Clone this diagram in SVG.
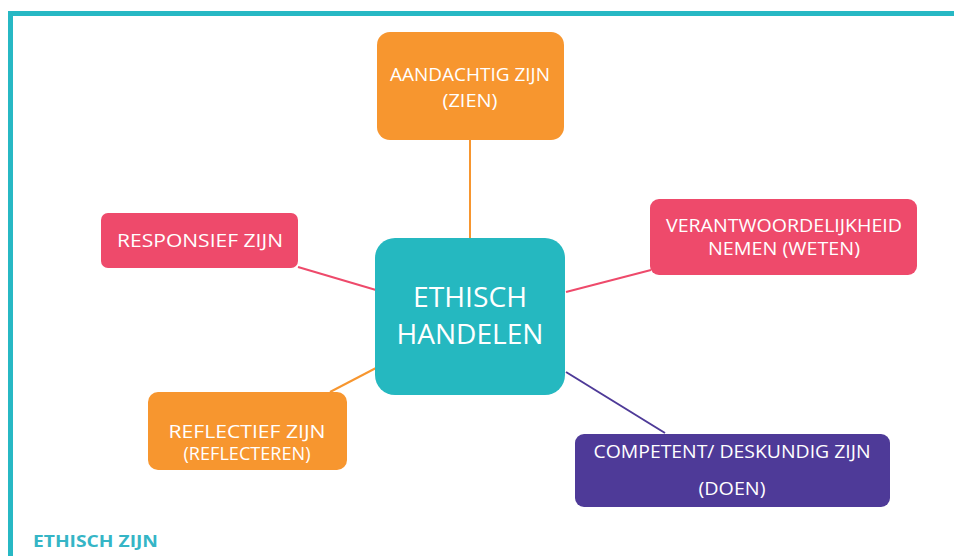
<svg xmlns="http://www.w3.org/2000/svg" width="954" height="556" viewBox="0 0 954 556">
<style>
.t{font-family:"Open Sans","Liberation Sans",sans-serif;fill:#ffffff;text-anchor:middle;}
.s{font-size:18px;}
.c{font-size:28px;}
.orange{fill:#f7962f;}
.pink{fill:#ee4a6b;}
.teal{fill:#25b8c0;}
.purple{fill:#4e3a98;}
.ln{fill:none;stroke-width:2;}
</style>
<rect x="0" y="0" width="954" height="556" fill="#ffffff"/>
<path d="M10.5 556 V13.5 H954" fill="none" stroke="#27b8c4" stroke-width="5"/>
<g id="connectors">
<line class="ln" x1="470" y1="140" x2="470" y2="238" stroke="#f7962f"/>
<line class="ln" x1="298" y1="267" x2="376" y2="290" stroke="#ee4a6b"/>
<line class="ln" x1="651" y1="270" x2="566" y2="292" stroke="#ee4a6b"/>
<line class="ln" x1="330" y1="392" x2="376" y2="368" stroke="#f7962f"/>
<line class="ln" x1="566" y1="372" x2="665" y2="433" stroke="#4e3a98"/>
</g>
<g id="center">
<rect class="teal" x="375" y="238" width="190" height="157" rx="20"/>
<text class="t c" x="470" y="307" textLength="114" lengthAdjust="spacingAndGlyphs">ETHISCH</text>
<text class="t c" x="470" y="344" textLength="147" lengthAdjust="spacingAndGlyphs">HANDELEN</text>
</g>
<g id="aandachtig">
<rect class="orange" x="377" y="32" width="187" height="108" rx="13"/>
<text class="t s" x="470" y="81" textLength="160" lengthAdjust="spacingAndGlyphs">AANDACHTIG ZIJN</text>
<text class="t s" x="470" y="107" textLength="55" lengthAdjust="spacingAndGlyphs">(ZIEN)</text>
</g>
<g id="responsief">
<rect class="pink" x="101" y="213" width="197" height="55" rx="7"/>
<text class="t s" x="200" y="247" textLength="166" lengthAdjust="spacingAndGlyphs">RESPONSIEF ZIJN</text>
</g>
<g id="verantwoordelijkheid">
<rect class="pink" x="650" y="199" width="267" height="76" rx="9"/>
<text class="t s" x="784" y="232" textLength="236" lengthAdjust="spacingAndGlyphs">VERANTWOORDELIJKHEID</text>
<text class="t s" x="784" y="255" textLength="152" lengthAdjust="spacingAndGlyphs">NEMEN (WETEN)</text>
</g>
<g id="reflectief">
<rect class="orange" x="148" y="392" width="199" height="78" rx="10"/>
<text class="t s" x="247" y="438" textLength="157" lengthAdjust="spacingAndGlyphs">REFLECTIEF ZIJN</text>
<text class="t s" x="247" y="460" textLength="127" lengthAdjust="spacingAndGlyphs">(REFLECTEREN)</text>
</g>
<g id="competent">
<rect class="purple" x="575" y="434" width="315" height="73" rx="9"/>
<text class="t s" x="732" y="458" textLength="277" lengthAdjust="spacingAndGlyphs">COMPETENT/ DESKUNDIG ZIJN</text>
<text class="t s" x="732" y="495" textLength="67" lengthAdjust="spacingAndGlyphs">(DOEN)</text>
</g>
<g id="title">
<text x="33" y="547" font-family="Open Sans, Liberation Sans, sans-serif" font-size="16" font-weight="bold" fill="#35b5c6" textLength="125" lengthAdjust="spacingAndGlyphs">ETHISCH ZIJN</text>
</g>
</svg>
